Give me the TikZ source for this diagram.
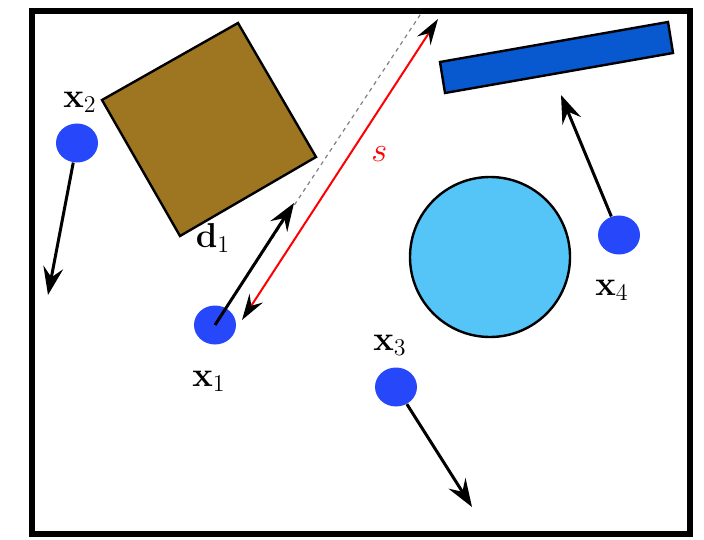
\documentclass[tikz,border=0pt]{standalone}
\usepackage{amsmath,amssymb}
\usepackage{xcolor}
\usetikzlibrary{arrows.meta,shapes.geometric}

\definecolor{boxbrown}{RGB}{158,117,32}
\definecolor{barblue}{RGB}{8,88,208}
\definecolor{discblue}{RGB}{85,197,247}
\definecolor{agentblue}{RGB}{38,72,250}

\begin{document}
\begin{tikzpicture}[x=0.5pt, y=-0.5pt]
        \tikzset{agent/.style={
            ellipse,
            fill=agentblue,
            minimum width=21pt,
            minimum height=19.5pt,
            inner sep=0pt
        }}
        \tikzset{velocity/.style={
            line width=1.5pt,
            -{Stealth[length=14pt, width=10pt, inset=5pt]}
        }}
        \tikzset{lbl/.style={
            font=\LARGE
        }}
        \useasboundingbox (0,0) rectangle (704,539);
        \draw[line width=3pt] (32,11) rectangle (690,534);

        % obstacles
        \draw[line width=1.2pt, fill=boxbrown] (238,23) -- (316,157) -- (180,236) -- (102,100) -- cycle;
        \draw[line width=1.2pt, fill=barblue] (440,62) -- (668,22) -- (673,53) -- (445,93) -- cycle;
        \node[draw, line width=1.2pt, fill=discblue, circle, minimum size=80pt, inner sep=0pt] (disc) at (490,257) {};

        % agents
        \node[agent] (x1) at (215,325) {};
        \node[agent] (x2) at (77,143) {};
        \node[agent] (x3) at (396,387) {};
        \node[agent] (x4) at (619,235) {};

        \node[lbl] (l1) at (209,381) {$\mathbf{x}_1$};
        \node[lbl] (l2) at (80,102) {$\mathbf{x}_2$};
        \node[lbl] (l3) at (390,345) {$\mathbf{x}_3$};
        \node[lbl] (l4) at (612,290) {$\mathbf{x}_4$};
        \node[lbl] (ld) at (213,238) {$\mathbf{d}_1$};

        \coordinate (v1) at (294,203);
        \coordinate (v2) at (48,295);
        \coordinate (v3) at (472,507);
        \coordinate (v4) at (561,95);
        \coordinate (ray) at (422,12);
        \coordinate (s0) at (242,320);
        \coordinate (s1) at (438,19);

        \draw[gray, line width=0.6pt, dash pattern=on 2pt off 2pt] (x1.center) -- (ray);
        \draw[velocity] (x1.center) -- (v1);
        \draw[velocity] (x2) -- (v2);
        \draw[velocity] (x3) -- (v3);
        \draw[velocity] (x4) -- (v4);
        \draw[red, line width=1pt, {Stealth[length=13pt, width=8pt, inset=4.5pt, black]}-{Stealth[length=13pt, width=8pt, inset=4.5pt, black]}] (s0) -- node[pos=0.55, right=7pt, lbl, text=red] {$s$} (s1);
    \end{tikzpicture}
\end{document}
